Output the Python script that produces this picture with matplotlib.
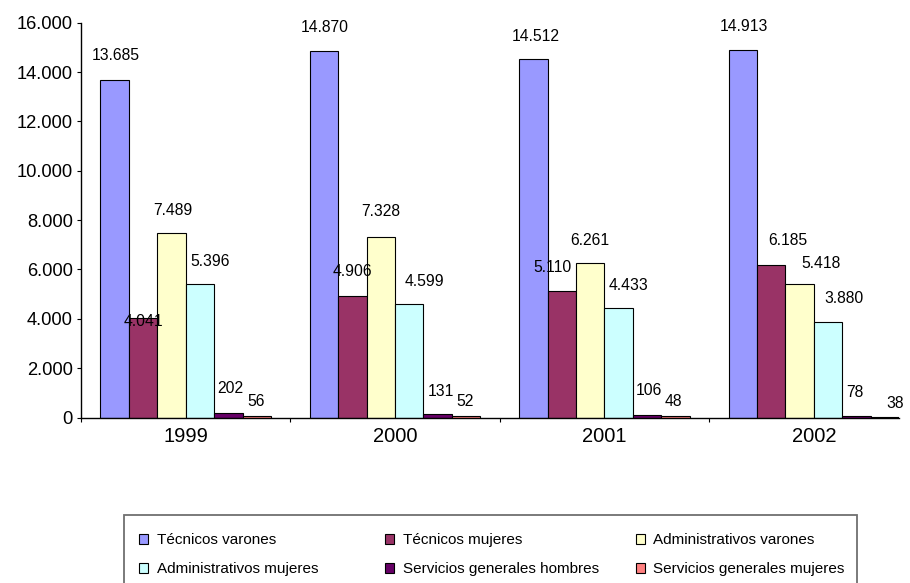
import matplotlib
matplotlib.use('Agg')
import matplotlib.pyplot as plt
from matplotlib.patches import Rectangle

plt.rcParams['font.family'] = ['Liberation Sans', 'DejaVu Sans']

# Data
years = ['1999', '2000', '2001', '2002']
series = ['Técnicos varones', 'Técnicos mujeres', 'Administrativos varones',
          'Administrativos mujeres', 'Servicios generales hombres',
          'Servicios generales mujeres']
tecnicos_varones = [13685, 14870, 14512, 14913]
tecnicos_mujeres = [4041, 4906, 5110, 6185]
admin_varones = [7489, 7328, 6261, 5418]
admin_mujeres = [5396, 4599, 4433, 3880]
servicios_hombres = [202, 131, 106, 78]
servicios_mujeres = [56, 52, 48, 38]
values = [tecnicos_varones, tecnicos_mujeres, admin_varones,
          admin_mujeres, servicios_hombres, servicios_mujeres]

colors = ['#9999FF', '#993366', '#FFFFCC', '#CCFFFF', '#660066', '#FF8080']

# label nudges in pixels (dx right, dy above bar top), per series then year
label_dx = [[1, 1, 2, 1], [0, 0, -9, 17], [1, 0, 0, 21],
            [10, 15, 10, 16], [2, 3, 2, -2], [-1, -1, -2, 10]]
label_dy = [[24, 23, 23, 23], [-4, 25, 24, 24], [22, 25, 23, 20],
            [23, 23, 23, 23], [24, 23, 24, 23], [15, 15, 15, 13]]


def fmt(v):
    return f'{v:,}'.replace(',', '.')


fig = plt.figure(figsize=(9.1, 5.83), dpi=100)
ax = fig.add_axes([81 / 910, (583 - 417.5) / 583, 818 / 910, 394.8 / 583])

w = 0.1357
for k, (name, vals) in enumerate(zip(series, values)):
    xs = [i + (k - 2.5) * w for i in range(len(years))]
    ax.bar(xs, vals, width=w, color=colors[k], edgecolor='black',
           linewidth=0.8, label=name)
    for i, (x, v) in enumerate(zip(xs, vals)):
        ax.annotate(fmt(v), xy=(x, v), xytext=(label_dx[k][i], label_dy[k][i]),
                    textcoords='offset pixels', ha='center', va='center',
                    fontsize=11.3, color='black')

ax.set_xlim(-0.5, 3 + 3 * w)
ax.set_ylim(0, 16000)
ax.set_yticks(range(0, 16001, 2000))
ax.set_yticklabels([fmt(t) for t in range(0, 16001, 2000)], fontsize=13.2)
ax.tick_params(axis='y', direction='out', length=3, width=0.8, pad=3)

ax.set_xticks([-0.5, 0.5, 1.5, 2.5])
ax.set_xticklabels([])
ax.tick_params(axis='x', which='major', direction='out', length=3, width=0.8)
ax.set_xticks(range(len(years)), minor=True)
ax.set_xticklabels(years, minor=True, fontsize=14.5)
ax.tick_params(axis='x', which='minor', length=0, pad=7)

for s in ['top', 'right']:
    ax.spines[s].set_visible(False)
for s in ['left', 'bottom']:
    ax.spines[s].set_linewidth(1.0)

# Legend: framed box, three columns laid out like the original
fig.patches.append(Rectangle((124 / 910, -0.1), (857 - 124) / 910,
                             (583 - 515) / 583 + 0.1, transform=fig.transFigure,
                             fill=False, edgecolor='#707070', linewidth=1.3))
handles, labels = ax.get_legend_handles_labels()
col_x = [139, 385, 635.5]
for c in range(3):
    leg = fig.legend([handles[c], handles[c + 3]], [labels[c], labels[c + 3]],
                     loc='upper left', bbox_to_anchor=(col_x[c] / 910, 1 - 533 / 583),
                     frameon=False, fontsize=11, handlelength=0.62,
                     handleheight=0.62, handletextpad=0.55, borderpad=0,
                     borderaxespad=0, labelspacing=1.0)

fig.savefig('out.png', dpi=100)
